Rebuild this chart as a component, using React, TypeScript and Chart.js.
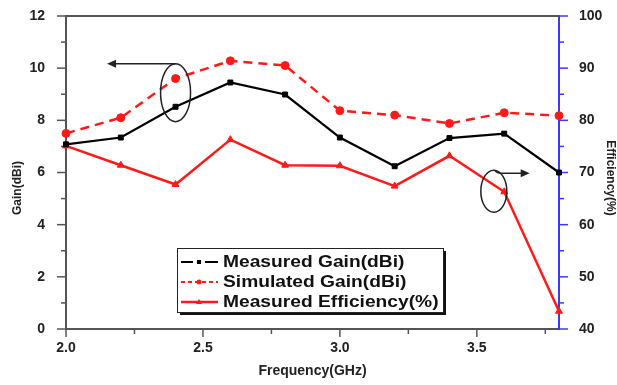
import React, { useEffect, useRef } from "react";
import { Chart, registerables } from "chart.js";

Chart.register(...registerables);

// ---- data ----
const frequencies = [2.0, 2.2, 2.4, 2.6, 2.8, 3.0, 3.2, 3.4, 3.6, 3.8];
const measuredGain = [7.08, 7.34, 8.52, 9.45, 8.99, 7.34, 6.24, 7.32, 7.49, 6.0];
const simulatedGain = [7.5, 8.1, 9.6, 10.28, 10.1, 8.37, 8.2, 7.88, 8.29, 8.18];
const measuredEfficiency = [75.1, 71.4, 67.7, 76.3, 71.4, 71.3, 67.4, 73.2, 66.3, 43.4];

const freqTicks = [2.0, 2.5, 3.0, 3.5];
const gainTicks = [0, 2, 4, 6, 8, 10, 12];
const effTicks = [40, 50, 60, 70, 80, 90, 100];

const seriesNames = ["Measured Gain(dBi)", "Simulated Gain(dBi)", "Measured Efficiency(%)"];
const xTitle = "Frequency(GHz)";
const yTitle = "Gain(dBi)";
const y1Title = "Efficiency(%)";

const FONT = "'Liberation Sans', Arial, sans-serif";
const RED = "#ff1a1a";
const BLUE = "#3a3aff";
const FRAME = "#555555";

function arrow(ctx: CanvasRenderingContext2D, x1: number, y1: number, x2: number, y2: number) {
  const ang = Math.atan2(y2 - y1, x2 - x1);
  ctx.beginPath();
  ctx.moveTo(x1, y1);
  ctx.lineTo(x2 - Math.cos(ang) * 6, y2 - Math.sin(ang) * 6);
  ctx.stroke();
  ctx.beginPath();
  ctx.moveTo(x2, y2);
  ctx.lineTo(x2 - Math.cos(ang) * 9 + Math.sin(ang) * 4, y2 - Math.sin(ang) * 9 - Math.cos(ang) * 4);
  ctx.lineTo(x2 - Math.cos(ang) * 9 - Math.sin(ang) * 4, y2 - Math.sin(ang) * 9 + Math.cos(ang) * 4);
  ctx.closePath();
  ctx.fill();
}

const decorPlugin = {
  id: "decor",
  beforeDatasetsDraw(chart: any) {
    const { ctx, chartArea: a, scales } = chart;
    const x = scales.x, y = scales.y, y1 = scales.y1;
    ctx.save();
    // top frame line
    ctx.strokeStyle = FRAME;
    ctx.lineWidth = 2;
    ctx.beginPath();
    ctx.moveTo(a.left, a.top);
    ctx.lineTo(a.right, a.top);
    ctx.stroke();
    // left ticks
    ctx.lineWidth = 1.5;
    for (let v = 0; v <= 12; v += 1) {
      const py = y.getPixelForValue(v);
      const len = v % 2 === 0 ? 9 : 5;
      ctx.beginPath();
      ctx.moveTo(a.left - len, py);
      ctx.lineTo(a.left, py);
      ctx.stroke();
    }
    // bottom ticks
    for (let i = 0; i <= 7; i++) {
      const v = 2.0 + i * 0.25;
      const px = x.getPixelForValue(v);
      const len = i % 2 === 0 ? 8 : 5;
      ctx.beginPath();
      ctx.moveTo(px, a.bottom);
      ctx.lineTo(px, a.bottom + len);
      ctx.stroke();
    }
    // right ticks
    ctx.strokeStyle = BLUE;
    for (let v = 40; v <= 100; v += 5) {
      const py = y1.getPixelForValue(v);
      const len = v % 10 === 0 ? 9 : 5;
      ctx.beginPath();
      ctx.moveTo(a.right, py);
      ctx.lineTo(a.right + len, py);
      ctx.stroke();
    }
    ctx.restore();
  },
  afterDatasetsDraw(chart: any) {
    const { ctx, chartArea: a, scales } = chart;
    const x = scales.x, y = scales.y, y1 = scales.y1;
    ctx.save();
    // axis titles
    ctx.fillStyle = "#222";
    ctx.font = `bold 12px ${FONT}`;
    ctx.textAlign = "center";
    ctx.textBaseline = "middle";
    ctx.save();
    ctx.translate(18, 188);
    ctx.rotate(-Math.PI / 2);
    ctx.fillText(yTitle, 0, 0);
    ctx.restore();
    ctx.save();
    ctx.translate(610, 178);
    ctx.rotate(Math.PI / 2);
    ctx.fillText(y1Title, 0, 0);
    ctx.restore();
    ctx.font = `bold 14px ${FONT}`;
    ctx.fillText(xTitle, (a.left + a.right) / 2, 371);

    // annotations
    ctx.strokeStyle = "#222";
    ctx.fillStyle = "#222";
    ctx.lineWidth = 1.5;
    const ex1 = x.getPixelForValue(2.4), ey1 = y.getPixelForValue(9.06);
    ctx.beginPath();
    ctx.ellipse(ex1, ey1, 15, 29, 0, 0, Math.PI * 2);
    ctx.stroke();
    arrow(ctx, ex1, ey1 - 29, x.getPixelForValue(2.15), ey1 - 29);

    const ex2 = x.getPixelForValue(3.562), ey2 = y1.getPixelForValue(66.4);
    ctx.beginPath();
    ctx.ellipse(ex2, ey2, 13, 21, 0, 0, Math.PI * 2);
    ctx.stroke();
    ctx.beginPath();
    ctx.moveTo(ex2 + 1, ey2 - 21);
    ctx.quadraticCurveTo(ex2 + 3, ey2 - 18, ex2 + 8, ey2 - 18);
    ctx.stroke();
    arrow(ctx, ex2 + 8, ey2 - 18, x.getPixelForValue(3.693), ey2 - 18);

    // legend
    const lx = 177, ly = 248, lw = 266, lh = 64;
    ctx.fillStyle = "#111";
    ctx.fillRect(lx + 3, ly + 3, lw, lh);
    ctx.fillStyle = "#fff";
    ctx.fillRect(lx, ly, lw, lh);
    ctx.strokeStyle = "#222";
    ctx.lineWidth = 1;
    ctx.strokeRect(lx + 0.5, ly + 0.5, lw, lh);
    const rows = [262, 282, 302];
    const sx1 = 181, sx2 = 218, sc = 199;
    // row 1: measured gain
    ctx.strokeStyle = "#000";
    ctx.fillStyle = "#000";
    ctx.lineWidth = 2;
    ctx.beginPath();
    ctx.moveTo(sx1, rows[0]); ctx.lineTo(sc - 6, rows[0]);
    ctx.moveTo(sc + 6, rows[0]); ctx.lineTo(sx2, rows[0]);
    ctx.stroke();
    ctx.fillRect(sc - 2, rows[0] - 2, 4, 4);
    // row 2: simulated gain
    ctx.strokeStyle = RED;
    ctx.fillStyle = RED;
    ctx.setLineDash([4, 3]);
    ctx.beginPath();
    ctx.moveTo(sx1, rows[1]); ctx.lineTo(sx2, rows[1]);
    ctx.stroke();
    ctx.setLineDash([]);
    ctx.beginPath();
    ctx.arc(sc, rows[1], 2.5, 0, Math.PI * 2);
    ctx.fill();
    // row 3: efficiency
    ctx.lineWidth = 2.5;
    ctx.beginPath();
    ctx.moveTo(sx1, rows[2]); ctx.lineTo(sx2, rows[2]);
    ctx.stroke();
    ctx.beginPath();
    ctx.moveTo(sc, rows[2] - 3); ctx.lineTo(sc + 3, rows[2] + 2); ctx.lineTo(sc - 3, rows[2] + 2);
    ctx.closePath();
    ctx.fill();
    // texts
    ctx.fillStyle = "#111";
    ctx.font = `bold 16px ${FONT}`;
    ctx.textAlign = "left";
    ctx.textBaseline = "middle";
    seriesNames.forEach((n, i) => {
      ctx.save();
      ctx.translate(223, rows[i] + 1);
      ctx.scale(1.2, 1);
      ctx.fillText(n, 0, 0);
      ctx.restore();
    });
    ctx.restore();
  },
};

export default function App() {
  const ref = useRef<HTMLCanvasElement>(null);
  useEffect(() => {
    if (!ref.current) return;
    const tickFont = { family: FONT, size: 14, weight: "bold" as const };
    const chart = new Chart(ref.current, {
      type: "line",
      data: {
        datasets: [
          {
            label: seriesNames[0],
            data: frequencies.map((f, i) => ({ x: f, y: measuredGain[i] })),
            borderColor: "#000",
            backgroundColor: "#000",
            borderWidth: 2.2,
            pointStyle: "rect",
            pointRadius: 3.5,
            pointBorderWidth: 1,
            yAxisID: "y",
            clip: false,
          },
          {
            label: seriesNames[1],
            data: frequencies.map((f, i) => ({ x: f, y: simulatedGain[i] })),
            borderColor: RED,
            backgroundColor: RED,
            borderWidth: 2.5,
            borderDash: [9, 6],
            pointStyle: "circle",
            pointRadius: 4,
            pointBorderWidth: 1,
            yAxisID: "y",
            clip: false,
          },
          {
            label: seriesNames[2],
            data: frequencies.map((f, i) => ({ x: f, y: measuredEfficiency[i] })),
            borderColor: RED,
            backgroundColor: RED,
            borderWidth: 2.5,
            pointStyle: "triangle",
            pointRadius: 4,
            pointBorderWidth: 1,
            yAxisID: "y1",
            clip: false,
          },
        ],
      },
      options: {
        animation: false,
        responsive: false,
        layout: { padding: { top: 16, left: 0, right: 0, bottom: 0 } },
        plugins: { legend: { display: false }, tooltip: { enabled: false } },
        scales: {
          x: {
            type: "linear",
            min: 2.0,
            max: 3.8,
            grid: { display: false },
            border: { display: true, color: FRAME, width: 2 },
            afterBuildTicks: (s: any) => { s.ticks = freqTicks.map((v) => ({ value: v })); },
            afterFit: (s: any) => { s.height = 56; s.paddingLeft = 0; s.paddingRight = 0; },
            ticks: {
              font: tickFont,
              color: "#222",
              padding: 3,
              maxRotation: 0,
              callback: (v: any) => Number(v).toFixed(1),
            },
          },
          y: {
            type: "linear",
            position: "left",
            min: 0,
            max: 12,
            grid: { display: false },
            border: { display: true, color: FRAME, width: 2 },
            afterBuildTicks: (s: any) => { s.ticks = gainTicks.map((v) => ({ value: v })); },
            afterFit: (s: any) => { s.width = 66; s.paddingTop = 0; s.paddingBottom = 0; },
            ticks: { font: tickFont, color: "#222", padding: 13 },
          },
          y1: {
            type: "linear",
            position: "right",
            min: 40,
            max: 100,
            grid: { display: false },
            border: { display: true, color: BLUE, width: 2 },
            afterBuildTicks: (s: any) => { s.ticks = effTicks.map((v) => ({ value: v })); },
            afterFit: (s: any) => { s.width = 58; s.paddingTop = 0; s.paddingBottom = 0; },
            ticks: { font: tickFont, color: "#222", padding: 12 },
          },
        },
      },
      plugins: [decorPlugin],
    });
    return () => chart.destroy();
  }, []);
  return (
    <div style={{ position: "fixed", left: 0, top: 0, width: 617, height: 385, background: "#fff" }}>
      <canvas ref={ref} width={617} height={385} style={{ display: "block" }} />
    </div>
  );
}
